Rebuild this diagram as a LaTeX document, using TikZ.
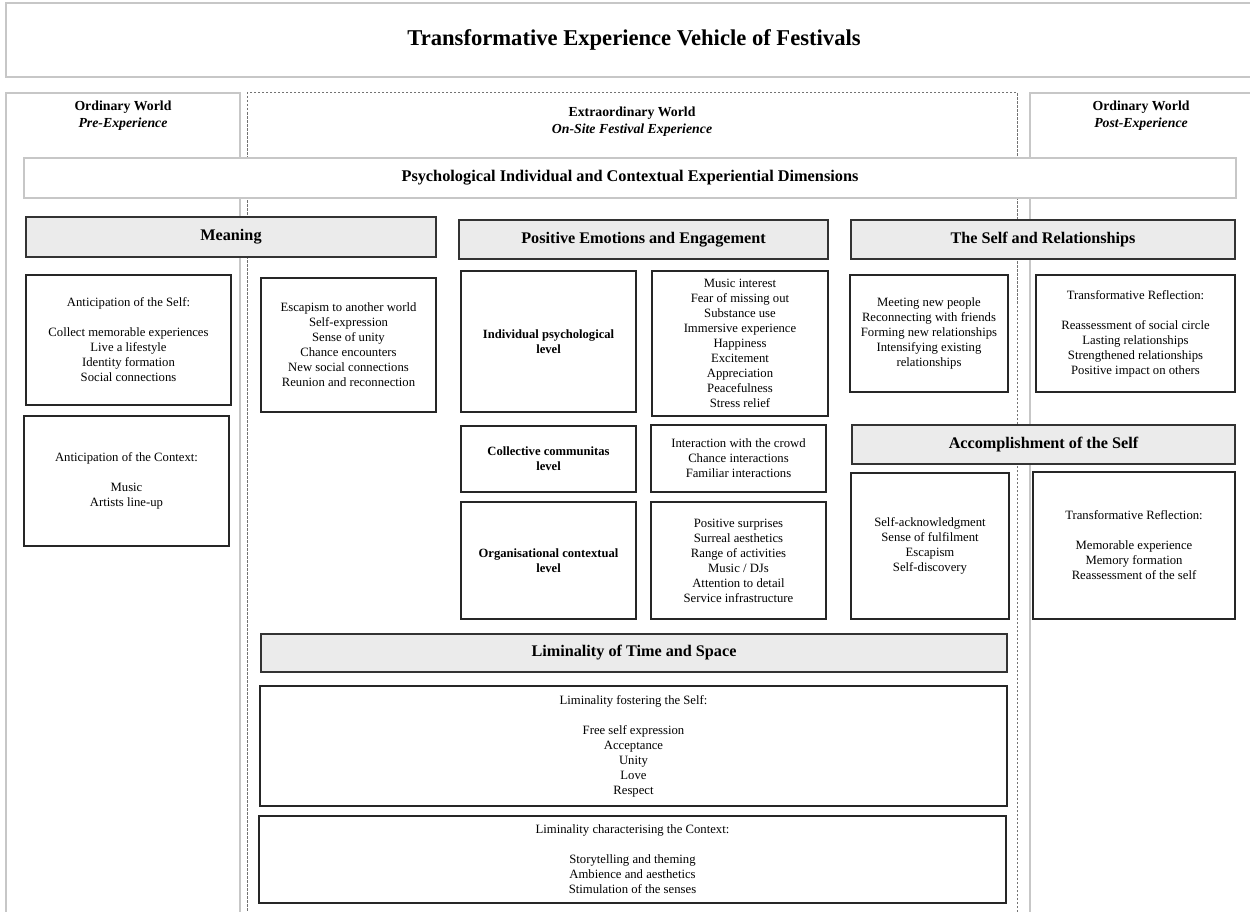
\documentclass[tikz,border=0pt]{standalone}
\usepackage{fontspec}
\setmainfont{Liberation Serif}
\begin{document}
\begin{tikzpicture}[x=1pt,y=-1pt,
  panel/.style={draw=black!22, line width=1.1pt},
  dpanel/.style={draw=black!55, line width=1pt, dash pattern=on 2.5pt off 1.5pt},
  hdr/.style={draw=black!80, fill=black!8, line width=1.4pt, inner sep=0pt, align=center, font=\fontsize{16.2}{18}\selectfont\bfseries},
  bx/.style={draw=black!85, line width=1.4pt, inner sep=0pt, align=center, font=\fontsize{12.7}{15}\selectfont},
  bbx/.style={bx, font=\fontsize{12.6}{15}\selectfont\bfseries},
  lbl/.style={inner sep=0pt, align=center, font=\fontsize{13.8}{17}\selectfont\bfseries},
  gbx/.style={draw=black!22, line width=1.1pt, inner sep=0pt, align=center}
]
\newcommand\bx[7]{\node[#6, minimum width={(#4-#2)*1pt}, minimum height={(#5-#3)*1pt}] (#1) at ({(#2+#4)/2},{(#3+#5)/2}) {#7};}
\useasboundingbox (0,0) rectangle (1250,912);
\clip (0,0) rectangle (1250,912);
\fill[white] (0,0) rectangle (1250,912);

% title
\bx{title}{6}{3}{1262}{77}{gbx}{\fontsize{22.6}{25}\selectfont\bfseries Transformative Experience Vehicle of Festivals}

% panels
\bx{leftp}{6}{93}{240}{930}{panel}{}
\bx{midp}{247}{93}{1017}{930}{dpanel}{}
\bx{rightp}{1030}{93}{1262}{930}{panel}{}
\node[lbl] (lt) at (123,115.5) {Ordinary World\\\itshape Pre-Experience};
\node[lbl] (mt) at (632,121.5) {Extraordinary World\\\itshape On-Site Festival Experience};
\node[lbl] (rt) at (1141,115.5) {Ordinary World\\\itshape Post-Experience};

% psychological dimensions
\bx{psy}{24}{158}{1236}{198}{gbx, fill=white}{\fontsize{16.3}{18}\selectfont\bfseries Psychological Individual and Contextual Experiential Dimensions}

% headers
\bx{hmean}{26}{217}{436}{257}{hdr}{Meaning}
\bx{hpos}{459}{220}{828}{259}{hdr}{Positive Emotions and Engagement}
\bx{hrel}{851}{220}{1235}{259}{hdr}{The Self and Relationships}
\bx{hacc}{852}{425}{1235}{464}{hdr}{Accomplishment of the Self}
\bx{hlim}{261}{634}{1007}{672}{hdr}{Liminality of Time and Space}

% Meaning
\bx{aself}{26}{275}{231}{405}{bx}{Anticipation of the Self:\\[15pt]Collect memorable experiences\\Live a lifestyle\\Identity formation\\Social connections}
\bx{actx}{24}{416}{229}{546}{bx}{Anticipation of the Context:\\[15pt]Music\\Artists line-up}
\bx{esc}{261}{278}{436}{412}{bx}{Escapism to another world\\Self-expression\\Sense of unity\\Chance encounters\\New social connections\\Reunion and reconnection}

% Positive emotions
\bx{ind}{461}{271}{636}{412}{bbx}{Individual psychological\\level}
\bx{indl}{652}{271}{828}{416}{bx}{Music interest\\Fear of missing out\\Substance use\\Immersive experience\\Happiness\\Excitement\\Appreciation\\Peacefulness\\Stress relief}
\bx{col}{461}{426}{636}{492}{bbx}{Collective communitas\\level}
\bx{coll}{651}{425}{826}{492}{bx}{Interaction with the crowd\\Chance interactions\\Familiar interactions}
\bx{org}{461}{502}{636}{619}{bbx}{Organisational contextual\\level}
\bx{orgl}{651}{502}{826}{619}{bx}{Positive surprises\\Surreal aesthetics\\Range of activities\\Music / DJs\\Attention to detail\\Service infrastructure}

% Self and relationships
\bx{meet}{850}{275}{1008}{392}{bx}{Meeting new people\\Reconnecting with friends\\Forming new relationships\\Intensifying existing\\relationships}
\bx{tr1}{1036}{275}{1235}{392}{bx}{Transformative Reflection:\\[15pt]Reassessment of social circle\\Lasting relationships\\Strengthened relationships\\Positive impact on others}

% Accomplishment
\bx{sack}{851}{473}{1009}{619}{bx}{Self-acknowledgment\\Sense of fulfilment\\Escapism\\Self-discovery}
\bx{tr2}{1033}{472}{1235}{619}{bx}{Transformative Reflection:\\[15pt]Memorable experience\\Memory formation\\Reassessment of the self}

% Liminality
\bx{limf}{260}{686}{1007}{806}{bx}{Liminality fostering the Self:\\[15pt]Free self expression\\Acceptance\\Unity\\Love\\Respect}
\bx{limc}{259}{816}{1006}{903}{bx}{Liminality characterising the Context:\\[15pt]Storytelling and theming\\Ambience and aesthetics\\Stimulation of the senses}
\end{tikzpicture}
\end{document}
